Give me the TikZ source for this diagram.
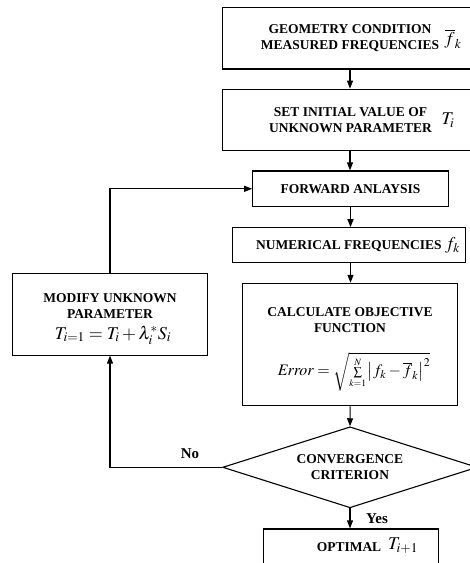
\documentclass[tikz,border=0pt]{standalone}
\usepackage{mathptmx}
\usepackage[no-math]{fontspec}
\setmainfont{Liberation Serif}
\usetikzlibrary{shapes.geometric,arrows.meta}
\tikzset{
 box/.style={draw,line width=1.1pt,inner sep=0pt},
 lbl/.style={font=\fontsize{13.5}{16}\selectfont\bfseries,align=center,inner sep=0pt},
 arr/.style={line width=1.1pt,-{Triangle[length=8pt,width=6pt]}},
 mth/.style={inner sep=0pt,font=\fontsize{18}{20}\selectfont},
 yn/.style={inner sep=0pt,font=\fontsize{15}{17}\selectfont\bfseries}
}
\begin{document}
\begin{tikzpicture}[x=1pt,y=-1pt]
\clip (0,0) rectangle (470,563);
\fill[white] (0,0) rectangle (470,563);
% top box
\node[box,line width=1.4pt,minimum width=254.6pt,minimum height=61.7pt] (b1) at (350,38.2) {};
\node[lbl] (t1) at (350,38) {GEOMETRY CONDITION\\MEASURED FREQUENCIES};
\node[mth] (m1) at (453,39) {$\overline{f}_{k}$};
% second box
\node[box,line width=1.4pt,minimum width=254.6pt,minimum height=61.4pt] (b2) at (350,120) {};
\node[lbl] (t2) at (350.5,120) {SET INITIAL VALUE OF\\UNKNOWN PARAMETER};
\node[mth] (m2) at (448,120) {$T_{i}$};
% forward
\node[box,lbl,minimum width=195.6pt,minimum height=35.7pt] (b3) at (350.5,188.8) {FORWARD ANLAYSIS};
% numerical
\node[box,minimum width=232.7pt,minimum height=35pt] (b4) at (348.7,245.2) {};
\node[lbl] (t4) at (358,245) {NUMERICAL FREQUENCIES {\fontsize{18}{20}\selectfont$f_{k}$}};
% calculate
\node[box,minimum width=215pt,minimum height=122.4pt] (b5) at (350.2,344.5) {};
\node[lbl] (t5) at (350,320) {CALCULATE OBJECTIVE\\FUNCTION};
\node[inner sep=0pt,font=\fontsize{16}{18}\selectfont] (m5) at (354,372)
 {$\mathit{Error}=\sqrt{{\scriptstyle\sum\limits_{k=1}^{N}}\left|f_{k}-\overline{f}_{k}\right|^{2}}$};
% diamond
\node[draw,line width=1.1pt,diamond,aspect=3.14,inner sep=0pt,minimum width=254.6pt,minimum height=81pt,lbl] (d6) at (350,467.3) {CONVERGENCE\\CRITERION};
% optimal
\node[box,minimum width=175pt,minimum height=44pt] (b7) at (350.8,551) {};
\node[lbl] (t7) at (349,547) {OPTIMAL};
\node[mth] (m7) at (403,546) {$T_{i+1}$};
% modify
\node[box,minimum width=194.6pt,minimum height=81.7pt] (b8) at (110,314.2) {};
\node[lbl] (t8) at (110,305.7) {MODIFY UNKNOWN\\PARAMETER};
\node[mth] (m8) at (113,335) {$T_{i=1}=T_{i}+\lambda_{i}^{*}S_{i}$};
% labels
\node[yn] (no) at (190,454) {No};
\node[yn] (yes) at (377,519) {Yes};
% arrows
\draw[arr] (b1.south) -- (b2.north);
\draw[arr] (b2.south) -- (b2.south |- b3.north);
\draw[arr] (b3.south) -- (b3.south |- b4.north);
\draw[arr] (b3.south |- b4.south) -- (b3.south |- b5.north);
\draw[arr] (b5.south) -- (d6.north);
\draw[arr] (d6.south) -- (d6.south |- b7.north);
\draw[arr] (d6.west) -| (b8.south);
\draw[arr] (b8.north) |- (b3.west);
\end{tikzpicture}
\end{document}
